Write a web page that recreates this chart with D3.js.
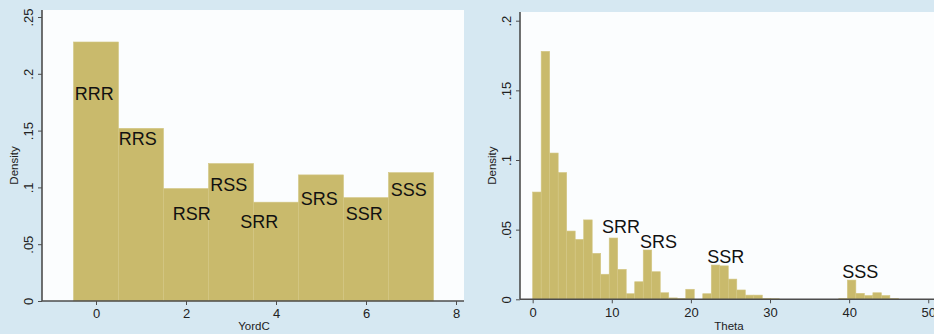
<!DOCTYPE html>
<html>
<head>
<meta charset="utf-8">
<script src="https://cdn.jsdelivr.net/npm/d3@7"></script>
<style>
  body { margin: 0; background: #d6e8f2; }
  svg { display: block; font-family: "Liberation Sans", Arial, sans-serif; }
</style>
</head>
<body>
<svg width="934" height="334"></svg>
<script>
// left histogram: YordC, one bar per outcome
const yordValues = [0, 1, 2, 3, 4, 5, 6, 7]
const yordDensity = [0.228, 0.152, 0.099, 0.121, 0.087, 0.111, 0.091, 0.113]
const yordLabels = [
  {text: "RRR", x: -0.04, y: 0.177},
  {text: "RRS", x: 0.93, y: 0.137},
  {text: "RSR", x: 2.13, y: 0.071},
  {text: "RSS", x: 2.95, y: 0.097},
  {text: "SRR", x: 3.63, y: 0.064},
  {text: "SRS", x: 4.96, y: 0.0845},
  {text: "SSR", x: 5.96, y: 0.071},
  {text: "SSS", x: 6.95, y: 0.092}
]
const yordXTicks = [0, 2, 4, 6, 8]
const yordYTicks = [0, 0.05, 0.1, 0.15, 0.2, 0.25]

// right histogram: Theta, bins of equal width starting at 0
const thetaStart = 0
const thetaWidth = 1.075
const thetaDensity = [
  0.077, 0.178, 0.105, 0.091, 0.049, 0.043, 0.057, 0.033, 0.018, 0.044,
  0.0215, 0.004, 0.0126, 0.0354, 0.0198, 0.0047, 0.001, 0.0006, 0.0072, 0,
  0.004, 0.0246, 0.024, 0.0145, 0.0067, 0.003, 0.003, 0.0006, 0.0004, 0,
  0, 0, 0, 0, 0, 0, 0.0005, 0.0138, 0.0043, 0.0027, 0.0047, 0.0027, 0.0006
]
const thetaLabels = [
  {text: "SRR", x: 11.16, y: 0.0474},
  {text: "SRS", x: 15.9, y: 0.0366},
  {text: "SSR", x: 24.4, y: 0.0258},
  {text: "SSS", x: 41.4, y: 0.0155}
]
const thetaXTicks = [0, 10, 20, 30, 40, 50]
const thetaYTicks = [0, 0.05, 0.1, 0.15, 0.2]

const barColor = "#c9ba6c"
const axisColor = "#4d4d4d"
const fmt = v => v === 0 ? "0" : String(v).replace(/^0/, "")

const svg = d3.select("svg")

svg.append("rect")
  .attr("width", 934).attr("height", 334)
  .attr("fill", "#d6e8f2")

function panel(opts) {
  const g = svg.append("g")
  const x = d3.scaleLinear().domain(opts.xDomain).range(opts.xRange)
  const y = d3.scaleLinear().domain(opts.yDomain).range(opts.yRange)
  const left = opts.xRange[0]

  // white plot region
  g.append("rect")
    .attr("x", left).attr("y", opts.top)
    .attr("width", opts.plotRight - left)
    .attr("height", opts.yRange[0] - opts.top)
    .attr("fill", "#fbfdfe")

  g.selectAll(".bar")
    .data(opts.bars)
    .enter()
    .append("rect")
    .attr("class", "bar")
    .attr("x", d => x(d.x0))
    .attr("width", d => x(d.x1) - x(d.x0))
    .attr("y", d => y(d.v))
    .attr("height", d => y(0) - y(d.v))
    .attr("fill", barColor)
    .attr("stroke", "#d3c683")
    .attr("stroke-width", 0.6)

  const xAxis = g.append("g")
    .attr("transform", `translate(0,${y(0)})`)
    .call(d3.axisBottom(x).tickValues(opts.xTicks).tickSize(4).tickPadding(4).tickFormat(d => d))
  xAxis.select(".domain").remove()
  xAxis.append("line")
    .attr("x1", left).attr("x2", opts.plotRight)
    .attr("stroke", axisColor).attr("stroke-width", 1.6)

  const yAxis = g.append("g")
    .attr("transform", `translate(${left},0)`)
    .call(d3.axisLeft(y).tickValues(opts.yTicks).tickSize(4).tickFormat(fmt))
  yAxis.select(".domain")
    .attr("d", `M0,${y(0)}V${opts.top}`)
    .attr("stroke", axisColor).attr("stroke-width", 1.6)

  g.selectAll(".tick line").attr("stroke", axisColor)
  g.selectAll(".tick text")
    .attr("fill", "#222").attr("font-size", 13)
    .attr("font-family", "Liberation Sans, Arial, sans-serif")
  yAxis.selectAll(".tick text")
    .attr("x", null).attr("dy", null)
    .attr("text-anchor", "middle")
    .attr("transform", "translate(-9,0) rotate(-90)")

  g.append("text")
    .attr("transform", `translate(${left - 24},${(y(0) + opts.top) / 2 + 10}) rotate(-90)`)
    .attr("text-anchor", "middle")
    .attr("font-size", 11.5).attr("fill", "#222")
    .text("Density")

  g.append("text")
    .attr("x", opts.xTitleX).attr("y", 330)
    .attr("text-anchor", "middle")
    .attr("font-size", 11.5).attr("fill", "#222")
    .text(opts.xTitle)

  g.selectAll(".lab")
    .data(opts.labels)
    .enter()
    .append("text")
    .attr("class", "lab")
    .attr("x", d => x(d.x)).attr("y", d => y(d.y))
    .attr("text-anchor", "middle")
    .attr("font-size", 18).attr("fill", "#111")
    .text(d => d.text)
}

panel({
  xDomain: [-1.2, 8], xRange: [42, 456],
  yDomain: [0, 0.25], yRange: [301, 17],
  top: 10, plotRight: 464,
  bars: yordValues.map((v, i) => ({x0: v - 0.5, x1: v + 0.5, v: yordDensity[i]})),
  xTicks: yordXTicks, yTicks: yordYTicks,
  labels: yordLabels,
  xTitle: "YordC", xTitleX: 254
})

panel({
  xDomain: [-1.6, 50], xRange: [520, 520 + 51.6 * 7.912],
  yDomain: [0, 0.2], yRange: [299.3, 20.7],
  top: 12, plotRight: 934,
  bars: thetaDensity.map((v, i) => ({
    x0: thetaStart + i * thetaWidth,
    x1: thetaStart + (i + 1) * thetaWidth,
    v: v
  })),
  xTicks: thetaXTicks, yTicks: thetaYTicks,
  labels: thetaLabels,
  xTitle: "Theta", xTitleX: 729
})
</script>
</body>
</html>
